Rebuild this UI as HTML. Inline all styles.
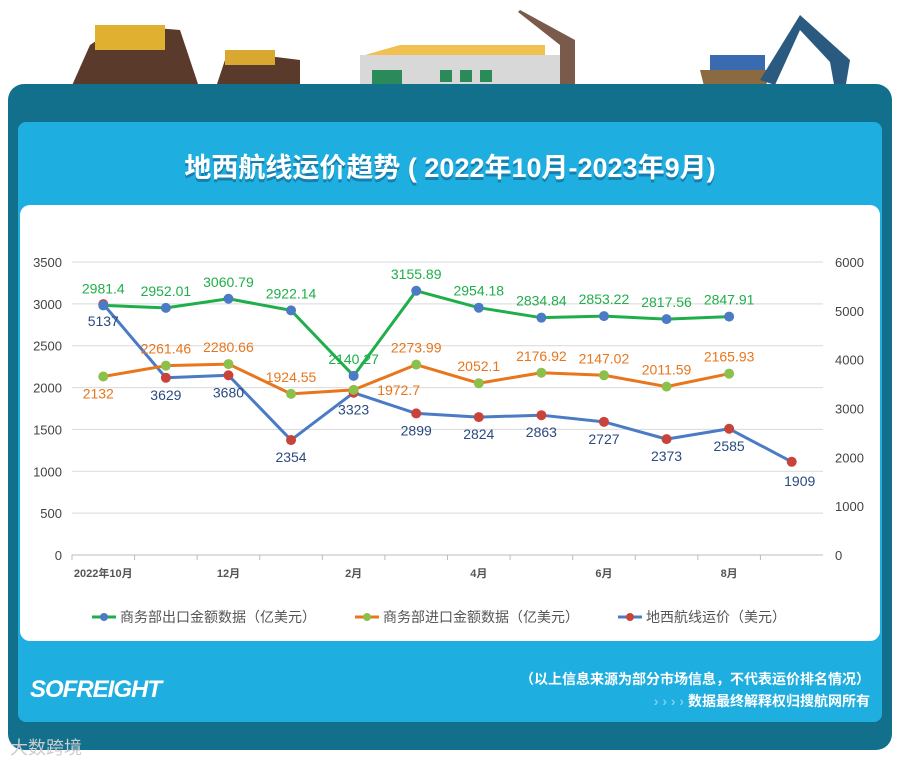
<!DOCTYPE html>
<html><head><meta charset="utf-8">
<style>
body{margin:0;width:900px;height:763px;background:#fff;overflow:hidden;font-family:"Liberation Sans","Noto Sans CJK SC",sans-serif;position:relative}
.abs{position:absolute}
</style></head>
<body>
<div class="abs" style="left:0;top:0;width:900px;height:90px">
<svg width="900" height="90">
<path d="M70 90 L90 45 L120 25 L180 30 L200 90Z" fill="#5a3a2a"/>
<rect x="95" y="25" width="70" height="25" fill="#e0b030"/>
<path d="M215 90 L225 60 L260 55 L300 60 L300 90Z" fill="#5a3a2a"/>
<rect x="225" y="50" width="50" height="15" fill="#d8a830"/>
<rect x="360" y="55" width="200" height="35" fill="#d8d8d8"/>
<path d="M365 55 L400 45 L545 45 L545 55Z" fill="#f0c050"/>
<rect x="372" y="70" width="30" height="20" fill="#2a8a5a"/>
<rect x="440" y="70" width="12" height="12" fill="#2a8a5a"/><rect x="460" y="70" width="12" height="12" fill="#2a8a5a"/><rect x="480" y="70" width="12" height="12" fill="#2a8a5a"/>
<path d="M520 10 L575 40 L575 90 L560 90 L560 45 L518 12Z" fill="#7a5a4a"/>
<path d="M705 90 L700 70 L770 70 L765 90Z" fill="#8a6a40"/>
<rect x="710" y="55" width="55" height="15" fill="#3a6ab0"/>
<path d="M760 80 L800 15 L850 60 L845 90 L835 90 L830 62 L800 30 L775 85Z" fill="#2a5a80"/>
</svg></div>
<div class="abs" style="left:8px;top:84px;width:884px;height:666px;background:#12708d;border-radius:16px"></div>
<div class="abs" style="left:18px;top:122px;width:864px;height:600px;background:#1eaedf;border-radius:8px"></div>
<div class="abs" style="left:18px;top:146px;width:864px;text-align:center;color:#fff;font-size:27px;font-weight:bold;text-shadow:0 3px 0 #1580b0">地西航线运价趋势 ( 2022年10月-2023年9月)</div>
<div class="abs" style="left:20px;top:205px;width:860px;height:436px;background:#fff;border-radius:10px"></div>
<svg class="abs" style="left:0;top:0" width="900" height="763" id="chart"></svg>
<div class="abs" style="left:30px;top:676px;color:#fff;font-size:24px;font-weight:bold;font-style:italic;letter-spacing:-1px">SOFREIGHT</div>
<div class="abs" style="right:30px;top:668px;color:#fff;font-size:14px;text-align:right;line-height:22px;font-weight:bold">（以上信息来源为部分市场信息，不代表运价排名情况）<br><span style="color:#7fd0ee">› › › › </span>数据最终解释权归搜航网所有</div>
<div class="abs" style="left:10px;top:734px;color:#ccc;font-size:18px">大数跨境</div>
<script>
const categories=["2022年10月","11月","12月","1月","2月","3月","4月","5月","6月","7月","8月","9月"];
const tickLabels=["2022年10月","","12月","","2月","","4月","","6月","","8月",""];
const exportVals=[2981.4,2952.01,3060.79,2922.14,2140.27,3155.89,2954.18,2834.84,2853.22,2817.56,2847.91];
const importVals=[2132,2261.46,2280.66,1924.55,1972.7,2273.99,2052.1,2176.92,2147.02,2011.59,2165.93];
const freightVals=[5137,3629,3680,2354,3323,2899,2824,2863,2727,2373,2585,1909];
const leftTicks=[0,500,1000,1500,2000,2500,3000,3500];
const rightTicks=[0,1000,2000,3000,4000,5000,6000];
const svg=document.getElementById('chart');const NS='http://www.w3.org/2000/svg';
const x0=72,x1=823,yB=555,yT=262;
const step=(x1-x0)/categories.length;
const xs=i=>x0+step*(i+0.5);
const yl=v=>yB-(v/3500)*(yB-yT);
const yr=v=>yB-(v/6000)*(yB-yT);
function el(t,a,txt){const e=document.createElementNS(NS,t);for(const k in a)e.setAttribute(k,a[k]);if(txt!=null)e.textContent=txt;svg.appendChild(e);return e;}
leftTicks.forEach(v=>{
 const g=el('line',{x1:x0,x2:x1,y1:yl(v),y2:yl(v),stroke:v?'#d9d9d9':'#bbb','stroke-width':1});
 
 
 const t=el('text',{x:62,y:yl(v)+5,'text-anchor':'end','font-size':13,fill:'#444'},String(v));
 
 
});
rightTicks.forEach(v=>{
 const t=el('text',{x:835,y:yr(v)+5,'font-size':13,fill:'#444'},String(v));
 
 
});
tickLabels.forEach((l,i)=>{
 el('line',{x1:x0+step*i,x2:x0+step*i,y1:yB,y2:yB+5,stroke:'#bbb'});
 if(l){const t=el('text',{x:xs(i),y:yB+22,'text-anchor':'middle','font-size':11,'font-weight':'bold',fill:'#555'},l);
 
 }
});
function series(vals,yf,col,mk,lab,name,pos){
 const p=el('polyline',{points:vals.map((v,i)=>xs(i)+','+yf(v)).join(' '),fill:'none',stroke:col,'stroke-width':3,'stroke-linejoin':'round'});
 
 
 vals.forEach((v,i)=>{
  const c=el('circle',{cx:xs(i),cy:yf(v),r:5,fill:mk});
  
  
  const o=pos(i);
  const t=el('text',{x:xs(i)+o[0],y:yf(v)+o[1],'text-anchor':'middle','font-size':14,fill:lab},String(v));
  
  
 });
}
series(freightVals,yr,'#4a7bc4','#c8433a','#2a4a80','freight',i=>i===11?[8,24]:[0,22]);
series(importVals,yl,'#e8761c','#8cc04a','#e8761c','import',i=>i===0?[-5,22]:i===4?[45,5]:[0,-12]);
series(exportVals,yl,'#1fae4a','#4a7bc4','#1fae4a','export',i=>[0,-12]);
const leg=[['商务部出口金额数据（亿美元）','#1fae4a','#4a7bc4',92],['商务部进口金额数据（亿美元）','#e8761c','#8cc04a',355],['地西航线运价（美元）','#4a7bc4','#c8433a',618]];
leg.forEach(l=>{
 const g=el('line',{x1:l[3],x2:l[3]+24,y1:617,y2:617,stroke:l[1],'stroke-width':3});
 
 
 el('circle',{cx:l[3]+12,cy:617,r:4,fill:l[2]});
 const t=el('text',{x:l[3]+28,y:622,'font-size':14,fill:'#555'},l[0]);
 
 
});
</script>
</body></html>
